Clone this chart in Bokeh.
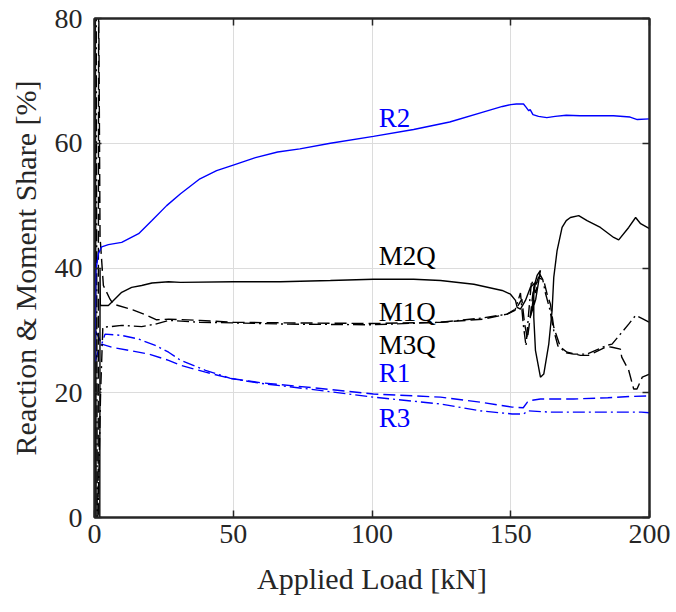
from bokeh.plotting import figure
from bokeh.models import Range1d, LinearAxis, FixedTicker, Label, CustomJSTickFormatter
from bokeh.embed import file_html
from bokeh.resources import INLINE

FONT = "Liberation Serif"
BLUE = "#0000ff"

# ---------------- data ----------------
x_ticks = [0, 50, 100, 150, 200]
y_ticks = [0, 20, 40, 60, 80]

r2_x = [0.2, 0.25, 0.5, 1.4, 2.6, 5, 9.8, 15.9, 20.7, 26, 31, 38, 44, 50, 58, 66, 74, 85,
        100.5, 115, 128, 140, 147, 150, 152, 154.6, 155.5, 156.5, 157, 158, 160, 163, 166,
        170, 175, 180, 187, 193, 195.6, 200]
r2_y = [25, 30, 39.6, 42.3, 43.4, 43.75, 44.1, 45.5, 47.6, 50.0, 51.9, 54.3, 55.6, 56.5,
        57.7, 58.6, 59.1, 60.0, 61.1, 62.2, 63.4, 65.0, 65.9, 66.2, 66.3, 66.3, 65.8, 65.2,
        65.4, 64.6, 64.3, 64.1, 64.3, 64.5, 64.4, 64.4, 64.4, 64.2, 63.8, 63.9]

r1_x = [0.3, 1.5, 2.6, 6.2, 12.3, 19.5, 26.7, 31, 40, 49, 60, 79, 100.5, 124.7, 139, 150.5,
        154.5, 156, 157, 160.7, 172.7, 185, 193, 200]
r1_y = [25, 27.0, 27.8, 27.3, 26.8, 26.2, 25.2, 24.4, 23.3, 22.3, 21.6, 20.8, 19.8, 19.3,
        18.5, 17.7, 17.6, 18.5, 18.75, 19.0, 19.0, 19.2, 19.4, 19.5]

r3_x = [0.25, 1.2, 2.0, 2.6, 3.8, 9.8, 15.9, 21.9, 26.7, 31, 40, 49, 60, 79, 100.5, 124.7,
        139, 150.5, 154.7, 156, 164, 180, 197, 200]
r3_y = [30, 29.2, 28.4, 27.8, 29.4, 29.2, 28.6, 27.6, 26.5, 25.2, 23.6, 22.3, 21.5, 20.5,
        19.3, 18.2, 17.1, 16.6, 16.6, 17.1, 16.9, 16.9, 16.9, 16.8]

m2q_x = [0.0, 0.3, 0.6, 1.9, 2.0, 2.1, 2.3, 5.0, 6.2, 9.8, 13.4, 17, 20.7, 26.7, 31, 50, 67,
         85, 100.5, 115, 124.7, 136.7, 146.9, 149.9, 151.7, 152.3, 153.5, 155.3, 157.1,
         158.9, 157.7, 157.0, 159.0, 160.7, 159.5, 158.3, 158.3, 158.9, 160.7, 161.9, 163.7,
         164.9, 165.5, 166.7, 168.5, 170, 171.5, 174.5, 177.5, 182.3, 187.1, 188.9, 192.5,
         195, 196.8, 200]
m2q_y = [-5, 85, -5, -5, 39.8, 34.2, 34.0, 34.0, 34.5, 36.1, 36.9, 37.2, 37.6, 37.8, 37.7,
         37.8, 37.8, 38.0, 38.2, 38.2, 38.0, 37.4, 36.4, 35.8, 34.8, 33.7, 33.4, 34.8, 36.9,
         37.7, 33.7, 32.1, 35.0, 39.6, 38.8, 36.9, 32.1, 26.8, 22.5, 23.0, 27.8, 33.2, 38.5,
         42.8, 46.5, 47.6, 48.1, 48.4, 47.6, 46.5, 44.9, 44.5, 46.5, 48.1, 47.1, 46.3]

m1q_x = [1.3, 1.5, 2.0, 3.2, 5.6, 6.8, 13.8, 17.8, 22.4, 26.7, 38, 50, 70, 100, 124.7, 140,
         148.7, 152, 154, 155, 156, 157, 158, 160, 161.9, 163.1, 164.3, 165.5, 166.7, 167.9,
         170.3, 175.1, 178, 184.7, 186.5, 189.5, 190, 192.5, 194.3, 195.5, 197.4, 200]
m1q_y = [-5, 85, 45, 37.2, 35.0, 34.2, 33.3, 32.6, 31.7, 31.8, 31.6, 31.3, 31.2, 31.1, 31.3,
         31.8, 32.6, 33.5, 35.0, 31.0, 28.7, 32.0, 36.0, 38.5, 38.0, 35.8, 34.2, 30.5, 28.9,
         27.3, 26.5, 26.0, 26.0, 27.4, 27.3, 27.0, 25.7, 23.6, 20.6, 20.6, 22.5, 23.0]

m3q_x = [0.6, 1.0, 2.2, 3.0, 5.6, 9.8, 17, 21.9, 26.7, 38, 50, 70, 100, 124.7, 140, 148.7,
         151.5, 153.5, 154.5, 155.5, 156.5, 157.5, 159, 160.5, 161.5, 162.5, 164, 165.5, 167,
         170, 172.7, 177.5, 184.7, 186.5, 189.5, 192.5, 195, 197.4, 200]
m3q_y = [85, -5, 20, 30.5, 30.6, 30.8, 30.6, 31.0, 31.6, 31.3, 31.2, 31.0, 30.9, 31.3, 32.0,
         32.6, 33.2, 36.0, 31.0, 27.5, 33.0, 38.0, 36.0, 39.0, 38.2, 36.0, 33.5, 30.0, 27.5,
         26.4, 26.2, 26.2, 27.6, 27.8, 29.4, 31.0, 32.4, 31.9, 31.3]

labels = ["R2", "M2Q", "M1Q", "M3Q", "R1", "R3"]
label_x = [102.4, 102.4, 102.4, 102.4, 102.4, 102.4]
label_y = [64.1, 42.0, 33.0, 27.6, 23.1, 16.0]
label_colors = [BLUE, "black", "black", "black", BLUE, BLUE]

# ---------------- figure ----------------
p = figure(width=676, height=612, output_backend="svg", toolbar_location=None,
           x_range=Range1d(0, 200), y_range=Range1d(0, 80),
           min_border_left=94, min_border_right=27, min_border_top=18, min_border_bottom=95)
p.background_fill_color = "white"
p.border_fill_color = "white"
p.outline_line_color = "#262626"
p.outline_line_width = 2

for ax in (p.xaxis[0], p.yaxis[0]):
    ax.axis_line_color = "#262626"
    ax.axis_line_width = 2
    ax.major_tick_in = 7
    ax.major_tick_out = 0
    ax.major_tick_line_color = "#262626"
    ax.major_tick_line_width = 1.5
    ax.minor_tick_line_color = None
    ax.major_label_text_font = FONT
    ax.major_label_text_font_size = "28px"
    ax.major_label_text_color = "#262626"
    ax.axis_label_text_font = FONT
    ax.axis_label_text_font_size = "30px"
    ax.axis_label_text_font_style = "normal"
    ax.axis_label_text_color = "#262626"

p.xaxis[0].ticker = FixedTicker(ticks=x_ticks)
p.yaxis[0].ticker = FixedTicker(ticks=y_ticks)
p.xaxis[0].axis_label = "Applied Load [kN]"
p.yaxis[0].axis_label = "Reaction & Moment Share [%]"
p.xaxis[0].major_label_standoff = 7
p.yaxis[0].major_label_standoff = 12
p.xaxis[0].axis_label_standoff = 16
p.yaxis[0].axis_label_standoff = 10

blank = CustomJSTickFormatter(code="return ''")
for loc, tick in (("right", y_ticks), ("above", x_ticks)):
    ax = LinearAxis(ticker=FixedTicker(ticks=tick), formatter=blank)
    ax.axis_line_color = "#262626"
    ax.axis_line_width = 2
    ax.major_tick_in = 7
    ax.major_tick_out = 0
    ax.major_tick_line_color = "#262626"
    ax.major_tick_line_width = 1.5
    ax.minor_tick_line_color = None
    ax.major_label_standoff = 0
    p.add_layout(ax, loc)

p.xgrid.ticker = FixedTicker(ticks=x_ticks)
p.ygrid.ticker = FixedTicker(ticks=y_ticks)
p.grid.grid_line_color = "#dcdcdc"
p.grid.grid_line_width = 1

LW = 1.4
p.line(r1_x, r1_y, line_color=BLUE, line_width=LW, line_dash="12 5")
p.line(r3_x, r3_y, line_color=BLUE, line_width=LW, line_dash="12 4 2 4")
p.line(m1q_x, m1q_y, line_color="black", line_width=LW, line_dash="12 5")
p.line(m3q_x, m3q_y, line_color="black", line_width=LW, line_dash="12 4 2 4")
p.line(m2q_x, m2q_y, line_color="black", line_width=LW)
p.line(r2_x, r2_y, line_color=BLUE, line_width=LW)

for t, lx, ly, c in zip(labels, label_x, label_y, label_colors):
    p.add_layout(Label(x=lx, y=ly, text=t, text_color=c, text_font=FONT,
                       text_font_size="27px", text_align="left",
                       text_baseline="alphabetic"))

open("out.html", "w").write(file_html(p, INLINE))
